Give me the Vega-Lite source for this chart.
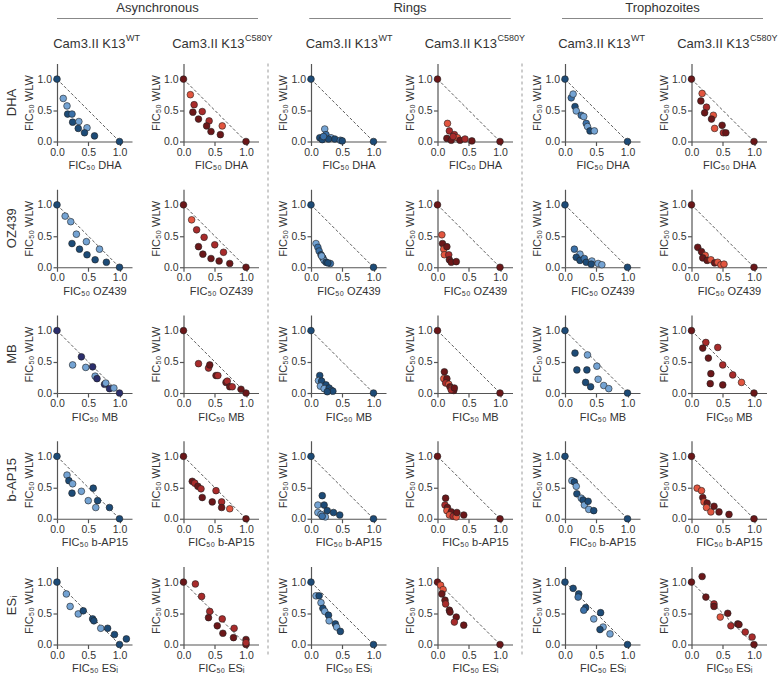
{
"$schema":"https://vega.github.io/schema/vega-lite/v6.json",
"background":"white",
"padding":{"left":5,"top":2,"right":5,"bottom":0},
"config":{"font":"Liberation Sans","view":{"stroke":null},
"axis":{"grid":false,"tickCount":3,"domainColor":"#555","domainWidth":1.2,"tickColor":"#555","tickWidth":1.2,"tickSize":4,"labelFontSize":10.5,"labelColor":"#333","labelPadding":1.5,"labelFlush":false,"labelOverlap":false,"titleFontSize":11,"titleFontWeight":"normal","titleColor":"#333","titlePadding":2},
"title":{"fontWeight":"normal","color":"#333"},
"header":{"labelFontSize":13,"labelColor":"#333"}},
"datasets":{
"iso":[{"x":0,"y":1},{"x":1,"y":0}],
"hdr":[{"grp":"Asynchronous","strain":"WT","base":"Cam3.II K13","sup":"WT"},{"grp":"Asynchronous","strain":"C580Y","base":"Cam3.II K13","sup":"C580Y"},{"grp":"Rings","strain":"WT","base":"Cam3.II K13","sup":"WT"},{"grp":"Rings","strain":"C580Y","base":"Cam3.II K13","sup":"C580Y"},{"grp":"Trophozoites","strain":"WT","base":"Cam3.II K13","sup":"WT"},{"grp":"Trophozoites","strain":"C580Y","base":"Cam3.II K13","sup":"C580Y"}],
"pts":[
{"p":"a1w","x":0,"y":1,"s":"bd"},{"p":"a1w","x":1,"y":0,"s":"bd"},{"p":"a1w","x":0.10,"y":0.69,"s":"bl"},{"p":"a1w","x":0.16,"y":0.57,"s":"bl"},{"p":"a1w","x":0.17,"y":0.44,"s":"bd"},{"p":"a1w","x":0.24,"y":0.44,"s":"bm"},{"p":"a1w","x":0.25,"y":0.31,"s":"bd"},{"p":"a1w","x":0.35,"y":0.32,"s":"bl"},{"p":"a1w","x":0.34,"y":0.21,"s":"bd"},{"p":"a1w","x":0.48,"y":0.22,"s":"bl"},{"p":"a1w","x":0.44,"y":0.14,"s":"bd"},{"p":"a1w","x":0.60,"y":0.09,"s":"bd"},
{"p":"a1c","x":0,"y":1,"s":"rd"},{"p":"a1c","x":1,"y":0,"s":"rd"},{"p":"a1c","x":0.11,"y":0.75,"s":"rl"},{"p":"a1c","x":0.17,"y":0.59,"s":"rm"},{"p":"a1c","x":0.15,"y":0.47,"s":"rd"},{"p":"a1c","x":0.30,"y":0.48,"s":"rm"},{"p":"a1c","x":0.24,"y":0.36,"s":"rd"},{"p":"a1c","x":0.41,"y":0.33,"s":"rm"},{"p":"a1c","x":0.37,"y":0.25,"s":"rd"},{"p":"a1c","x":0.62,"y":0.25,"s":"rl"},{"p":"a1c","x":0.44,"y":0.16,"s":"rd"},{"p":"a1c","x":0.59,"y":0.11,"s":"rd"},
{"p":"r1w","x":0,"y":1,"s":"bd"},{"p":"r1w","x":1,"y":0,"s":"bd"},{"p":"r1w","x":0.14,"y":0.06,"s":"bd"},{"p":"r1w","x":0.22,"y":0.20,"s":"bl"},{"p":"r1w","x":0.24,"y":0.11,"s":"bm"},{"p":"r1w","x":0.18,"y":0.03,"s":"bd"},{"p":"r1w","x":0.32,"y":0.06,"s":"bl"},{"p":"r1w","x":0.38,"y":0.04,"s":"bd"},{"p":"r1w","x":0.47,"y":0.02,"s":"bm"},{"p":"r1w","x":0.50,"y":0.01,"s":"bd"},{"p":"r1w","x":0.28,"y":0.04,"s":"bd"},{"p":"r1w","x":0.20,"y":0.08,"s":"bm"},
{"p":"r1c","x":0,"y":1,"s":"rd"},{"p":"r1c","x":1,"y":0,"s":"rd"},{"p":"r1c","x":0.16,"y":0.29,"s":"rl"},{"p":"r1c","x":0.19,"y":0.17,"s":"rm"},{"p":"r1c","x":0.27,"y":0.11,"s":"rm"},{"p":"r1c","x":0.32,"y":0.06,"s":"rl"},{"p":"r1c","x":0.15,"y":0.05,"s":"rd"},{"p":"r1c","x":0.22,"y":0.02,"s":"rd"},{"p":"r1c","x":0.36,"y":0.02,"s":"rd"},{"p":"r1c","x":0.44,"y":0.04,"s":"rm"},{"p":"r1c","x":0.55,"y":0.01,"s":"rd"},{"p":"r1c","x":0.25,"y":0.08,"s":"rm"},
{"p":"t1w","x":0,"y":1,"s":"bd"},{"p":"t1w","x":1,"y":0,"s":"bd"},{"p":"t1w","x":0.10,"y":0.70,"s":"bm"},{"p":"t1w","x":0.13,"y":0.76,"s":"bl"},{"p":"t1w","x":0.16,"y":0.56,"s":"bd"},{"p":"t1w","x":0.18,"y":0.49,"s":"bl"},{"p":"t1w","x":0.26,"y":0.42,"s":"bm"},{"p":"t1w","x":0.30,"y":0.40,"s":"bl"},{"p":"t1w","x":0.34,"y":0.29,"s":"bm"},{"p":"t1w","x":0.36,"y":0.24,"s":"bl"},{"p":"t1w","x":0.40,"y":0.17,"s":"bd"},{"p":"t1w","x":0.47,"y":0.17,"s":"bl"},
{"p":"t1c","x":0,"y":1,"s":"rd"},{"p":"t1c","x":1,"y":0,"s":"rd"},{"p":"t1c","x":0.17,"y":0.77,"s":"rl"},{"p":"t1c","x":0.15,"y":0.65,"s":"rd"},{"p":"t1c","x":0.24,"y":0.55,"s":"rm"},{"p":"t1c","x":0.21,"y":0.46,"s":"rd"},{"p":"t1c","x":0.35,"y":0.42,"s":"rl"},{"p":"t1c","x":0.32,"y":0.36,"s":"rd"},{"p":"t1c","x":0.37,"y":0.21,"s":"rl"},{"p":"t1c","x":0.49,"y":0.26,"s":"rd"},{"p":"t1c","x":0.51,"y":0.14,"s":"rm"},{"p":"t1c","x":0.55,"y":0.14,"s":"rd"},
{"p":"a2w","x":0,"y":1,"s":"bd"},{"p":"a2w","x":1,"y":0,"s":"bd"},{"p":"a2w","x":0.13,"y":0.82,"s":"bl"},{"p":"a2w","x":0.22,"y":0.73,"s":"bl"},{"p":"a2w","x":0.31,"y":0.53,"s":"bl"},{"p":"a2w","x":0.24,"y":0.38,"s":"bd"},{"p":"a2w","x":0.36,"y":0.29,"s":"bd"},{"p":"a2w","x":0.47,"y":0.41,"s":"bl"},{"p":"a2w","x":0.48,"y":0.20,"s":"bd"},{"p":"a2w","x":0.61,"y":0.12,"s":"bd"},{"p":"a2w","x":0.68,"y":0.29,"s":"bl"},{"p":"a2w","x":0.79,"y":0.08,"s":"bd"},
{"p":"a2c","x":0,"y":1,"s":"rd"},{"p":"a2c","x":1,"y":0,"s":"rd"},{"p":"a2c","x":0.13,"y":0.76,"s":"rl"},{"p":"a2c","x":0.21,"y":0.60,"s":"rm"},{"p":"a2c","x":0.33,"y":0.48,"s":"rm"},{"p":"a2c","x":0.24,"y":0.33,"s":"rd"},{"p":"a2c","x":0.31,"y":0.21,"s":"rd"},{"p":"a2c","x":0.50,"y":0.36,"s":"rm"},{"p":"a2c","x":0.44,"y":0.14,"s":"rd"},{"p":"a2c","x":0.57,"y":0.10,"s":"rd"},{"p":"a2c","x":0.64,"y":0.24,"s":"rm"},{"p":"a2c","x":0.74,"y":0.06,"s":"rd"},
{"p":"r2w","x":0,"y":1,"s":"bd"},{"p":"r2w","x":1,"y":0,"s":"bd"},{"p":"r2w","x":0.08,"y":0.38,"s":"bl"},{"p":"r2w","x":0.11,"y":0.32,"s":"bm"},{"p":"r2w","x":0.13,"y":0.26,"s":"bm"},{"p":"r2w","x":0.16,"y":0.20,"s":"bd"},{"p":"r2w","x":0.19,"y":0.15,"s":"bd"},{"p":"r2w","x":0.21,"y":0.11,"s":"bl"},{"p":"r2w","x":0.24,"y":0.08,"s":"bd"},{"p":"r2w","x":0.31,"y":0.06,"s":"bm"},{"p":"r2w","x":0.17,"y":0.18,"s":"bl"},{"p":"r2w","x":0.27,"y":0.07,"s":"bd"},
{"p":"r2c","x":0,"y":1,"s":"rd"},{"p":"r2c","x":1,"y":0,"s":"rd"},{"p":"r2c","x":0.07,"y":0.52,"s":"rl"},{"p":"r2c","x":0.08,"y":0.38,"s":"rd"},{"p":"r2c","x":0.10,"y":0.29,"s":"rl"},{"p":"r2c","x":0.15,"y":0.33,"s":"rd"},{"p":"r2c","x":0.11,"y":0.20,"s":"rl"},{"p":"r2c","x":0.18,"y":0.20,"s":"rm"},{"p":"r2c","x":0.19,"y":0.12,"s":"rd"},{"p":"r2c","x":0.22,"y":0.08,"s":"rd"},{"p":"r2c","x":0.30,"y":0.09,"s":"rd"},
{"p":"t2w","x":0,"y":1,"s":"bd"},{"p":"t2w","x":1,"y":0,"s":"bd"},{"p":"t2w","x":0.15,"y":0.29,"s":"bm"},{"p":"t2w","x":0.24,"y":0.21,"s":"bl"},{"p":"t2w","x":0.18,"y":0.16,"s":"bd"},{"p":"t2w","x":0.24,"y":0.11,"s":"bd"},{"p":"t2w","x":0.31,"y":0.14,"s":"bm"},{"p":"t2w","x":0.34,"y":0.08,"s":"bd"},{"p":"t2w","x":0.43,"y":0.10,"s":"bl"},{"p":"t2w","x":0.42,"y":0.05,"s":"bd"},{"p":"t2w","x":0.53,"y":0.06,"s":"bl"},{"p":"t2w","x":0.59,"y":0.04,"s":"bl"},
{"p":"t2c","x":0,"y":1,"s":"rd"},{"p":"t2c","x":1,"y":0,"s":"rd"},{"p":"t2c","x":0.10,"y":0.32,"s":"rd"},{"p":"t2c","x":0.16,"y":0.25,"s":"rd"},{"p":"t2c","x":0.22,"y":0.19,"s":"rl"},{"p":"t2c","x":0.18,"y":0.15,"s":"rd"},{"p":"t2c","x":0.25,"y":0.11,"s":"rd"},{"p":"t2c","x":0.31,"y":0.12,"s":"rl"},{"p":"t2c","x":0.37,"y":0.07,"s":"rd"},{"p":"t2c","x":0.42,"y":0.08,"s":"rl"},{"p":"t2c","x":0.47,"y":0.04,"s":"rl"},{"p":"t2c","x":0.52,"y":0.05,"s":"rl"},
{"p":"a3w","x":0,"y":1,"s":"bn"},{"p":"a3w","x":1,"y":0,"s":"bn"},{"p":"a3w","x":0.39,"y":0.58,"s":"bn"},{"p":"a3w","x":0.25,"y":0.45,"s":"bl"},{"p":"a3w","x":0.46,"y":0.41,"s":"bl"},{"p":"a3w","x":0.57,"y":0.42,"s":"bn"},{"p":"a3w","x":0.61,"y":0.27,"s":"bl"},{"p":"a3w","x":0.64,"y":0.23,"s":"bn"},{"p":"a3w","x":0.76,"y":0.14,"s":"bn"},{"p":"a3w","x":0.78,"y":0.16,"s":"bl"},{"p":"a3w","x":0.84,"y":0.07,"s":"bn"},{"p":"a3w","x":0.91,"y":0.08,"s":"bl"},
{"p":"a3c","x":0,"y":1,"s":"rd"},{"p":"a3c","x":1,"y":0,"s":"rd"},{"p":"a3c","x":0.24,"y":0.47,"s":"rm"},{"p":"a3c","x":0.40,"y":0.40,"s":"rm"},{"p":"a3c","x":0.42,"y":0.45,"s":"rd"},{"p":"a3c","x":0.52,"y":0.28,"s":"rd"},{"p":"a3c","x":0.55,"y":0.28,"s":"rm"},{"p":"a3c","x":0.68,"y":0.17,"s":"rd"},{"p":"a3c","x":0.70,"y":0.19,"s":"rm"},{"p":"a3c","x":0.74,"y":0.10,"s":"rd"},{"p":"a3c","x":0.78,"y":0.10,"s":"rm"},{"p":"a3c","x":0.92,"y":0.06,"s":"rd"},
{"p":"r3w","x":0,"y":1,"s":"bd"},{"p":"r3w","x":1,"y":0,"s":"bd"},{"p":"r3w","x":0.14,"y":0.28,"s":"bd"},{"p":"r3w","x":0.12,"y":0.20,"s":"bl"},{"p":"r3w","x":0.17,"y":0.19,"s":"bd"},{"p":"r3w","x":0.15,"y":0.11,"s":"bl"},{"p":"r3w","x":0.24,"y":0.13,"s":"bd"},{"p":"r3w","x":0.21,"y":0.07,"s":"bl"},{"p":"r3w","x":0.29,"y":0.08,"s":"bd"},{"p":"r3w","x":0.33,"y":0.04,"s":"bm"},{"p":"r3w","x":0.35,"y":0.03,"s":"bd"},{"p":"r3w","x":0.26,"y":0.02,"s":"bd"},
{"p":"r3c","x":0,"y":1,"s":"rd"},{"p":"r3c","x":1,"y":0,"s":"rd"},{"p":"r3c","x":0.11,"y":0.34,"s":"rd"},{"p":"r3c","x":0.10,"y":0.23,"s":"rl"},{"p":"r3c","x":0.15,"y":0.23,"s":"rd"},{"p":"r3c","x":0.13,"y":0.16,"s":"rm"},{"p":"r3c","x":0.18,"y":0.14,"s":"rl"},{"p":"r3c","x":0.20,"y":0.10,"s":"rd"},{"p":"r3c","x":0.23,"y":0.07,"s":"rl"},{"p":"r3c","x":0.26,"y":0.04,"s":"rd"},{"p":"r3c","x":0.22,"y":0.05,"s":"rm"},{"p":"r3c","x":0.27,"y":0.08,"s":"rd"},
{"p":"t3w","x":0,"y":1,"s":"bd"},{"p":"t3w","x":1,"y":0,"s":"bd"},{"p":"t3w","x":0.16,"y":0.64,"s":"bd"},{"p":"t3w","x":0.36,"y":0.61,"s":"bl"},{"p":"t3w","x":0.19,"y":0.37,"s":"bd"},{"p":"t3w","x":0.35,"y":0.37,"s":"bd"},{"p":"t3w","x":0.51,"y":0.43,"s":"bl"},{"p":"t3w","x":0.33,"y":0.17,"s":"bd"},{"p":"t3w","x":0.53,"y":0.22,"s":"bl"},{"p":"t3w","x":0.41,"y":0.10,"s":"bd"},{"p":"t3w","x":0.62,"y":0.12,"s":"bl"},{"p":"t3w","x":0.70,"y":0.07,"s":"bl"},
{"p":"t3c","x":0,"y":1,"s":"rd"},{"p":"t3c","x":1,"y":0,"s":"rd"},{"p":"t3c","x":0.23,"y":0.81,"s":"rm"},{"p":"t3c","x":0.42,"y":0.73,"s":"rm"},{"p":"t3c","x":0.18,"y":0.72,"s":"rd"},{"p":"t3c","x":0.27,"y":0.56,"s":"rd"},{"p":"t3c","x":0.50,"y":0.45,"s":"rm"},{"p":"t3c","x":0.31,"y":0.31,"s":"rd"},{"p":"t3c","x":0.66,"y":0.29,"s":"rm"},{"p":"t3c","x":0.80,"y":0.17,"s":"rl"},{"p":"t3c","x":0.30,"y":0.15,"s":"rd"},{"p":"t3c","x":0.50,"y":0.13,"s":"rd"},
{"p":"a4w","x":0,"y":1,"s":"bd"},{"p":"a4w","x":1,"y":0,"s":"bd"},{"p":"a4w","x":0.16,"y":0.70,"s":"bl"},{"p":"a4w","x":0.19,"y":0.61,"s":"bd"},{"p":"a4w","x":0.25,"y":0.56,"s":"bl"},{"p":"a4w","x":0.24,"y":0.41,"s":"bd"},{"p":"a4w","x":0.39,"y":0.44,"s":"bl"},{"p":"a4w","x":0.58,"y":0.49,"s":"bd"},{"p":"a4w","x":0.50,"y":0.29,"s":"bl"},{"p":"a4w","x":0.65,"y":0.29,"s":"bd"},{"p":"a4w","x":0.62,"y":0.18,"s":"bl"},{"p":"a4w","x":0.84,"y":0.18,"s":"bd"},
{"p":"a4c","x":0,"y":1,"s":"rd"},{"p":"a4c","x":1,"y":0,"s":"rd"},{"p":"a4c","x":0.14,"y":0.60,"s":"rd"},{"p":"a4c","x":0.18,"y":0.57,"s":"rm"},{"p":"a4c","x":0.23,"y":0.52,"s":"rd"},{"p":"a4c","x":0.28,"y":0.48,"s":"rm"},{"p":"a4c","x":0.30,"y":0.34,"s":"rd"},{"p":"a4c","x":0.52,"y":0.45,"s":"rm"},{"p":"a4c","x":0.46,"y":0.27,"s":"rd"},{"p":"a4c","x":0.61,"y":0.27,"s":"rm"},{"p":"a4c","x":0.61,"y":0.18,"s":"rd"},{"p":"a4c","x":0.74,"y":0.16,"s":"rl"},
{"p":"r4w","x":0,"y":1,"s":"bd"},{"p":"r4w","x":1,"y":0,"s":"bd"},{"p":"r4w","x":0.18,"y":0.37,"s":"bd"},{"p":"r4w","x":0.11,"y":0.22,"s":"bl"},{"p":"r4w","x":0.21,"y":0.22,"s":"bd"},{"p":"r4w","x":0.11,"y":0.10,"s":"bl"},{"p":"r4w","x":0.16,"y":0.07,"s":"bl"},{"p":"r4w","x":0.26,"y":0.13,"s":"bd"},{"p":"r4w","x":0.36,"y":0.10,"s":"bd"},{"p":"r4w","x":0.46,"y":0.06,"s":"bd"},{"p":"r4w","x":0.23,"y":0.03,"s":"bl"},{"p":"r4w","x":0.18,"y":0.04,"s":"bm"},
{"p":"r4c","x":0,"y":1,"s":"rd"},{"p":"r4c","x":1,"y":0,"s":"rd"},{"p":"r4c","x":0.13,"y":0.33,"s":"rd"},{"p":"r4c","x":0.12,"y":0.22,"s":"rm"},{"p":"r4c","x":0.16,"y":0.18,"s":"rd"},{"p":"r4c","x":0.15,"y":0.13,"s":"rl"},{"p":"r4c","x":0.22,"y":0.11,"s":"rd"},{"p":"r4c","x":0.19,"y":0.06,"s":"rl"},{"p":"r4c","x":0.25,"y":0.04,"s":"rm"},{"p":"r4c","x":0.30,"y":0.03,"s":"rl"},{"p":"r4c","x":0.31,"y":0.10,"s":"rd"},{"p":"r4c","x":0.42,"y":0.06,"s":"rd"},
{"p":"t4w","x":0,"y":1,"s":"bd"},{"p":"t4w","x":1,"y":0,"s":"bd"},{"p":"t4w","x":0.11,"y":0.61,"s":"bl"},{"p":"t4w","x":0.15,"y":0.59,"s":"bd"},{"p":"t4w","x":0.18,"y":0.52,"s":"bl"},{"p":"t4w","x":0.19,"y":0.40,"s":"bd"},{"p":"t4w","x":0.26,"y":0.33,"s":"bl"},{"p":"t4w","x":0.29,"y":0.30,"s":"bd"},{"p":"t4w","x":0.31,"y":0.22,"s":"bl"},{"p":"t4w","x":0.37,"y":0.28,"s":"bd"},{"p":"t4w","x":0.38,"y":0.15,"s":"bl"},{"p":"t4w","x":0.46,"y":0.13,"s":"bd"},
{"p":"t4c","x":0,"y":1,"s":"rd"},{"p":"t4c","x":1,"y":0,"s":"rd"},{"p":"t4c","x":0.09,"y":0.49,"s":"rl"},{"p":"t4c","x":0.16,"y":0.45,"s":"rl"},{"p":"t4c","x":0.18,"y":0.34,"s":"rd"},{"p":"t4c","x":0.20,"y":0.27,"s":"rl"},{"p":"t4c","x":0.25,"y":0.25,"s":"rd"},{"p":"t4c","x":0.24,"y":0.18,"s":"rl"},{"p":"t4c","x":0.31,"y":0.11,"s":"rl"},{"p":"t4c","x":0.36,"y":0.20,"s":"rd"},{"p":"t4c","x":0.44,"y":0.11,"s":"rd"},{"p":"t4c","x":0.60,"y":0.07,"s":"rd"},
{"p":"a5w","x":0,"y":1,"s":"bd"},{"p":"a5w","x":1,"y":0,"s":"bd"},{"p":"a5w","x":0.15,"y":0.81,"s":"bl"},{"p":"a5w","x":0.21,"y":0.61,"s":"bl"},{"p":"a5w","x":0.34,"y":0.49,"s":"bl"},{"p":"a5w","x":0.42,"y":0.54,"s":"bd"},{"p":"a5w","x":0.57,"y":0.41,"s":"bd"},{"p":"a5w","x":0.59,"y":0.38,"s":"bd"},{"p":"a5w","x":0.70,"y":0.26,"s":"bl"},{"p":"a5w","x":0.81,"y":0.26,"s":"bd"},{"p":"a5w","x":0.92,"y":0.16,"s":"bd"},{"p":"a5w","x":1.11,"y":0.09,"s":"bd"},
{"p":"a5c","x":0,"y":1,"s":"rd"},{"p":"a5c","x":1,"y":0,"s":"rd"},{"p":"a5c","x":0.19,"y":0.97,"s":"rm"},{"p":"a5c","x":0.29,"y":0.77,"s":"rm"},{"p":"a5c","x":0.42,"y":0.53,"s":"rm"},{"p":"a5c","x":0.40,"y":0.43,"s":"rd"},{"p":"a5c","x":0.54,"y":0.30,"s":"rd"},{"p":"a5c","x":0.62,"y":0.41,"s":"rm"},{"p":"a5c","x":0.63,"y":0.18,"s":"rd"},{"p":"a5c","x":0.81,"y":0.26,"s":"rm"},{"p":"a5c","x":0.80,"y":0.11,"s":"rd"},{"p":"a5c","x":1.00,"y":0.08,"s":"rd"},{"p":"a5c","x":1.00,"y":0.03,"s":"rm"},
{"p":"r5w","x":0,"y":1,"s":"bd"},{"p":"r5w","x":1,"y":0,"s":"bd"},{"p":"r5w","x":0.08,"y":0.78,"s":"bl"},{"p":"r5w","x":0.13,"y":0.78,"s":"bd"},{"p":"r5w","x":0.16,"y":0.67,"s":"bl"},{"p":"r5w","x":0.19,"y":0.58,"s":"bd"},{"p":"r5w","x":0.22,"y":0.53,"s":"bl"},{"p":"r5w","x":0.28,"y":0.47,"s":"bd"},{"p":"r5w","x":0.29,"y":0.38,"s":"bl"},{"p":"r5w","x":0.39,"y":0.33,"s":"bd"},{"p":"r5w","x":0.41,"y":0.28,"s":"bl"},{"p":"r5w","x":0.47,"y":0.21,"s":"bd"},
{"p":"r5c","x":0,"y":1,"s":"rd"},{"p":"r5c","x":1,"y":0,"s":"rd"},{"p":"r5c","x":0.05,"y":0.95,"s":"rl"},{"p":"r5c","x":0.09,"y":0.88,"s":"rl"},{"p":"r5c","x":0.07,"y":0.81,"s":"rd"},{"p":"r5c","x":0.12,"y":0.71,"s":"rd"},{"p":"r5c","x":0.13,"y":0.65,"s":"rm"},{"p":"r5c","x":0.19,"y":0.55,"s":"rd"},{"p":"r5c","x":0.20,"y":0.52,"s":"rd"},{"p":"r5c","x":0.30,"y":0.44,"s":"rd"},{"p":"r5c","x":0.27,"y":0.36,"s":"rm"},{"p":"r5c","x":0.42,"y":0.31,"s":"rd"},
{"p":"t5w","x":0,"y":1,"s":"bd"},{"p":"t5w","x":1,"y":0,"s":"bd"},{"p":"t5w","x":0.13,"y":0.90,"s":"bd"},{"p":"t5w","x":0.22,"y":0.81,"s":"bd"},{"p":"t5w","x":0.21,"y":0.76,"s":"bm"},{"p":"t5w","x":0.33,"y":0.59,"s":"bd"},{"p":"t5w","x":0.30,"y":0.55,"s":"bm"},{"p":"t5w","x":0.46,"y":0.41,"s":"bl"},{"p":"t5w","x":0.57,"y":0.51,"s":"bd"},{"p":"t5w","x":0.61,"y":0.28,"s":"bl"},{"p":"t5w","x":0.56,"y":0.24,"s":"bd"},{"p":"t5w","x":0.72,"y":0.17,"s":"bl"},
{"p":"t5c","x":0,"y":1,"s":"rd"},{"p":"t5c","x":1,"y":0,"s":"rd"},{"p":"t5c","x":0.17,"y":1.09,"s":"rd"},{"p":"t5c","x":0.23,"y":0.76,"s":"rd"},{"p":"t5c","x":0.36,"y":0.65,"s":"rm"},{"p":"t5c","x":0.36,"y":0.61,"s":"rd"},{"p":"t5c","x":0.58,"y":0.50,"s":"rd"},{"p":"t5c","x":0.46,"y":0.44,"s":"rl"},{"p":"t5c","x":0.63,"y":0.30,"s":"rm"},{"p":"t5c","x":0.74,"y":0.33,"s":"rd"},{"p":"t5c","x":0.76,"y":0.32,"s":"rd"},{"p":"t5c","x":0.86,"y":0.20,"s":"rm"},{"p":"t5c","x":0.97,"y":0.12,"s":"rm"}
]},
"spacing":11.5,
"vconcat":[
{"data":{"name":"hdr"},"bounds":"flush","spacing":51.5,
 "facet":{"column":{"field":"grp","type":"nominal","sort":["Asynchronous","Rings","Trophozoites"],"header":{"title":null,"labelFontSize":13,"labelColor":"#333","labelPadding":3}}},
 "spec":{"width":201,"height":1,"layer":[
  {"mark":{"type":"rule","color":"#888","strokeWidth":1},"encoding":{"y":{"datum":"h","type":"nominal","axis":null}}},
  {"transform":[{"filter":"datum.strain=='WT'"}],"mark":{"type":"text","align":"right","baseline":"alphabetic","dx":31,"dy":29,"fontSize":13,"color":"#333"},"encoding":{"x":{"field":"strain","type":"nominal","axis":null,"scale":{"type":"point","domain":["WT","C580Y"],"padding":0.2976}},"y":{"datum":"h","type":"nominal","axis":null},"text":{"field":"base"}}},
  {"transform":[{"filter":"datum.strain=='WT'"}],"mark":{"type":"text","align":"left","baseline":"alphabetic","dx":31.5,"dy":22.5,"fontSize":9,"color":"#333"},"encoding":{"x":{"field":"strain","type":"nominal","axis":null,"scale":{"type":"point","domain":["WT","C580Y"],"padding":0.2976}},"y":{"datum":"h","type":"nominal","axis":null},"text":{"field":"sup"}}},
  {"transform":[{"filter":"datum.strain=='C580Y'"}],"mark":{"type":"text","align":"right","baseline":"alphabetic","dx":24,"dy":29,"fontSize":13,"color":"#333"},"encoding":{"x":{"field":"strain","type":"nominal","axis":null,"scale":{"type":"point","domain":["WT","C580Y"],"padding":0.2976}},"y":{"datum":"h","type":"nominal","axis":null},"text":{"field":"base"}}},
  {"transform":[{"filter":"datum.strain=='C580Y'"}],"mark":{"type":"text","align":"left","baseline":"alphabetic","dx":24.5,"dy":22.5,"fontSize":9,"color":"#333"},"encoding":{"x":{"field":"strain","type":"nominal","axis":null,"scale":{"type":"point","domain":["WT","C580Y"],"padding":0.2976}},"y":{"datum":"h","type":"nominal","axis":null},"text":{"field":"sup"}}}
 ]}},
{"spacing":8,"hconcat":[
 {"columns":2,"bounds":"flush","spacing":{"row":47.75,"column":51.5},"concat":[
  {"width":75,"height":78,"title":{"text":"DHA","orient":"left","anchor":"middle","fontSize":13,"offset":5},"encoding":{"x":{"field":"x","type":"quantitative","scale":{"domain":[0,1.2],"nice":false},"axis":{"title":"FIC₅₀ DHA"}},"y":{"field":"y","type":"quantitative","scale":{"domain":[0,1.25],"nice":false},"axis":{"title":"FIC₅₀ WLW"}}},"layer":[{"data":{"name":"iso"},"mark":{"type":"line","color":"#333","strokeWidth":0.8,"strokeDash":[3,2]},"encoding":{}},{"data":{"name":"pts"},"transform":[{"filter":"datum.p=='a1w'"}],"mark":{"type":"circle","size":45,"stroke":"#222","strokeWidth":0.6,"opacity":1},"encoding":{"fill":{"field":"s","type":"nominal","scale":{"domain":["bd","bm","bl","bn","rd","rm","rl"],"range":["#1d4b77","#3a70a8","#74a3d3","#2b2e6c","#6b1719","#a82b2b","#e2553f"]},"legend":null}}}]},
  {"width":75,"height":78,"encoding":{"x":{"field":"x","type":"quantitative","scale":{"domain":[0,1.2],"nice":false},"axis":{"title":"FIC₅₀ DHA"}},"y":{"field":"y","type":"quantitative","scale":{"domain":[0,1.25],"nice":false},"axis":{"title":"FIC₅₀ WLW"}}},"layer":[{"data":{"name":"iso"},"mark":{"type":"line","color":"#333","strokeWidth":0.8,"strokeDash":[3,2]},"encoding":{}},{"data":{"name":"pts"},"transform":[{"filter":"datum.p=='a1c'"}],"mark":{"type":"circle","size":45,"stroke":"#222","strokeWidth":0.6,"opacity":1},"encoding":{"fill":{"field":"s","type":"nominal","scale":{"domain":["bd","bm","bl","bn","rd","rm","rl"],"range":["#1d4b77","#3a70a8","#74a3d3","#2b2e6c","#6b1719","#a82b2b","#e2553f"]},"legend":null}}}]},
  {"width":75,"height":78,"title":{"text":"OZ439","orient":"left","anchor":"middle","fontSize":13,"offset":5},"encoding":{"x":{"field":"x","type":"quantitative","scale":{"domain":[0,1.2],"nice":false},"axis":{"title":"FIC₅₀ OZ439"}},"y":{"field":"y","type":"quantitative","scale":{"domain":[0,1.25],"nice":false},"axis":{"title":"FIC₅₀ WLW"}}},"layer":[{"data":{"name":"iso"},"mark":{"type":"line","color":"#333","strokeWidth":0.8,"strokeDash":[3,2]},"encoding":{}},{"data":{"name":"pts"},"transform":[{"filter":"datum.p=='a2w'"}],"mark":{"type":"circle","size":45,"stroke":"#222","strokeWidth":0.6,"opacity":1},"encoding":{"fill":{"field":"s","type":"nominal","scale":{"domain":["bd","bm","bl","bn","rd","rm","rl"],"range":["#1d4b77","#3a70a8","#74a3d3","#2b2e6c","#6b1719","#a82b2b","#e2553f"]},"legend":null}}}]},
  {"width":75,"height":78,"encoding":{"x":{"field":"x","type":"quantitative","scale":{"domain":[0,1.2],"nice":false},"axis":{"title":"FIC₅₀ OZ439"}},"y":{"field":"y","type":"quantitative","scale":{"domain":[0,1.25],"nice":false},"axis":{"title":"FIC₅₀ WLW"}}},"layer":[{"data":{"name":"iso"},"mark":{"type":"line","color":"#333","strokeWidth":0.8,"strokeDash":[3,2]},"encoding":{}},{"data":{"name":"pts"},"transform":[{"filter":"datum.p=='a2c'"}],"mark":{"type":"circle","size":45,"stroke":"#222","strokeWidth":0.6,"opacity":1},"encoding":{"fill":{"field":"s","type":"nominal","scale":{"domain":["bd","bm","bl","bn","rd","rm","rl"],"range":["#1d4b77","#3a70a8","#74a3d3","#2b2e6c","#6b1719","#a82b2b","#e2553f"]},"legend":null}}}]},
  {"width":75,"height":78,"title":{"text":"MB","orient":"left","anchor":"middle","fontSize":13,"offset":5},"encoding":{"x":{"field":"x","type":"quantitative","scale":{"domain":[0,1.2],"nice":false},"axis":{"title":"FIC₅₀ MB"}},"y":{"field":"y","type":"quantitative","scale":{"domain":[0,1.25],"nice":false},"axis":{"title":"FIC₅₀ WLW"}}},"layer":[{"data":{"name":"iso"},"mark":{"type":"line","color":"#333","strokeWidth":0.8,"strokeDash":[3,2]},"encoding":{}},{"data":{"name":"pts"},"transform":[{"filter":"datum.p=='a3w'"}],"mark":{"type":"circle","size":45,"stroke":"#222","strokeWidth":0.6,"opacity":1},"encoding":{"fill":{"field":"s","type":"nominal","scale":{"domain":["bd","bm","bl","bn","rd","rm","rl"],"range":["#1d4b77","#3a70a8","#74a3d3","#2b2e6c","#6b1719","#a82b2b","#e2553f"]},"legend":null}}}]},
  {"width":75,"height":78,"encoding":{"x":{"field":"x","type":"quantitative","scale":{"domain":[0,1.2],"nice":false},"axis":{"title":"FIC₅₀ MB"}},"y":{"field":"y","type":"quantitative","scale":{"domain":[0,1.25],"nice":false},"axis":{"title":"FIC₅₀ WLW"}}},"layer":[{"data":{"name":"iso"},"mark":{"type":"line","color":"#333","strokeWidth":0.8,"strokeDash":[3,2]},"encoding":{}},{"data":{"name":"pts"},"transform":[{"filter":"datum.p=='a3c'"}],"mark":{"type":"circle","size":45,"stroke":"#222","strokeWidth":0.6,"opacity":1},"encoding":{"fill":{"field":"s","type":"nominal","scale":{"domain":["bd","bm","bl","bn","rd","rm","rl"],"range":["#1d4b77","#3a70a8","#74a3d3","#2b2e6c","#6b1719","#a82b2b","#e2553f"]},"legend":null}}}]},
  {"width":75,"height":78,"title":{"text":"b-AP15","orient":"left","anchor":"middle","fontSize":13,"offset":5},"encoding":{"x":{"field":"x","type":"quantitative","scale":{"domain":[0,1.2],"nice":false},"axis":{"title":"FIC₅₀ b-AP15"}},"y":{"field":"y","type":"quantitative","scale":{"domain":[0,1.25],"nice":false},"axis":{"title":"FIC₅₀ WLW"}}},"layer":[{"data":{"name":"iso"},"mark":{"type":"line","color":"#333","strokeWidth":0.8,"strokeDash":[3,2]},"encoding":{}},{"data":{"name":"pts"},"transform":[{"filter":"datum.p=='a4w'"}],"mark":{"type":"circle","size":45,"stroke":"#222","strokeWidth":0.6,"opacity":1},"encoding":{"fill":{"field":"s","type":"nominal","scale":{"domain":["bd","bm","bl","bn","rd","rm","rl"],"range":["#1d4b77","#3a70a8","#74a3d3","#2b2e6c","#6b1719","#a82b2b","#e2553f"]},"legend":null}}}]},
  {"width":75,"height":78,"encoding":{"x":{"field":"x","type":"quantitative","scale":{"domain":[0,1.2],"nice":false},"axis":{"title":"FIC₅₀ b-AP15"}},"y":{"field":"y","type":"quantitative","scale":{"domain":[0,1.25],"nice":false},"axis":{"title":"FIC₅₀ WLW"}}},"layer":[{"data":{"name":"iso"},"mark":{"type":"line","color":"#333","strokeWidth":0.8,"strokeDash":[3,2]},"encoding":{}},{"data":{"name":"pts"},"transform":[{"filter":"datum.p=='a4c'"}],"mark":{"type":"circle","size":45,"stroke":"#222","strokeWidth":0.6,"opacity":1},"encoding":{"fill":{"field":"s","type":"nominal","scale":{"domain":["bd","bm","bl","bn","rd","rm","rl"],"range":["#1d4b77","#3a70a8","#74a3d3","#2b2e6c","#6b1719","#a82b2b","#e2553f"]},"legend":null}}}]},
  {"width":75,"height":78,"title":{"text":"ESᵢ","orient":"left","anchor":"middle","fontSize":13,"offset":5},"encoding":{"x":{"field":"x","type":"quantitative","scale":{"domain":[0,1.2],"nice":false},"axis":{"title":"FIC₅₀ ESᵢ"}},"y":{"field":"y","type":"quantitative","scale":{"domain":[0,1.25],"nice":false},"axis":{"title":"FIC₅₀ WLW"}}},"layer":[{"data":{"name":"iso"},"mark":{"type":"line","color":"#333","strokeWidth":0.8,"strokeDash":[3,2]},"encoding":{}},{"data":{"name":"pts"},"transform":[{"filter":"datum.p=='a5w'"}],"mark":{"type":"circle","size":45,"stroke":"#222","strokeWidth":0.6,"opacity":1},"encoding":{"fill":{"field":"s","type":"nominal","scale":{"domain":["bd","bm","bl","bn","rd","rm","rl"],"range":["#1d4b77","#3a70a8","#74a3d3","#2b2e6c","#6b1719","#a82b2b","#e2553f"]},"legend":null}}}]},
  {"width":75,"height":78,"encoding":{"x":{"field":"x","type":"quantitative","scale":{"domain":[0,1.2],"nice":false},"axis":{"title":"FIC₅₀ ESᵢ"}},"y":{"field":"y","type":"quantitative","scale":{"domain":[0,1.25],"nice":false},"axis":{"title":"FIC₅₀ WLW"}}},"layer":[{"data":{"name":"iso"},"mark":{"type":"line","color":"#333","strokeWidth":0.8,"strokeDash":[3,2]},"encoding":{}},{"data":{"name":"pts"},"transform":[{"filter":"datum.p=='a5c'"}],"mark":{"type":"circle","size":45,"stroke":"#222","strokeWidth":0.6,"opacity":1},"encoding":{"fill":{"field":"s","type":"nominal","scale":{"domain":["bd","bm","bl","bn","rd","rm","rl"],"range":["#1d4b77","#3a70a8","#74a3d3","#2b2e6c","#6b1719","#a82b2b","#e2553f"]},"legend":null}}}]}
 ]},
 {"data":{"values":[{}]},"width":1,"height":592,"mark":{"type":"rule","color":"#9a9a9a","strokeWidth":1,"strokeDash":[3,3]},"encoding":{"x":{"datum":0,"type":"quantitative","axis":null,"scale":{"domain":[0,1]}}}},
 {"columns":2,"bounds":"flush","spacing":{"row":47.75,"column":51.5},"concat":[
  {"width":75,"height":78,"encoding":{"x":{"field":"x","type":"quantitative","scale":{"domain":[0,1.2],"nice":false},"axis":{"title":"FIC₅₀ DHA"}},"y":{"field":"y","type":"quantitative","scale":{"domain":[0,1.25],"nice":false},"axis":{"title":"FIC₅₀ WLW"}}},"layer":[{"data":{"name":"iso"},"mark":{"type":"line","color":"#333","strokeWidth":0.8,"strokeDash":[3,2]},"encoding":{}},{"data":{"name":"pts"},"transform":[{"filter":"datum.p=='r1w'"}],"mark":{"type":"circle","size":45,"stroke":"#222","strokeWidth":0.6,"opacity":1},"encoding":{"fill":{"field":"s","type":"nominal","scale":{"domain":["bd","bm","bl","bn","rd","rm","rl"],"range":["#1d4b77","#3a70a8","#74a3d3","#2b2e6c","#6b1719","#a82b2b","#e2553f"]},"legend":null}}}]},
  {"width":75,"height":78,"encoding":{"x":{"field":"x","type":"quantitative","scale":{"domain":[0,1.2],"nice":false},"axis":{"title":"FIC₅₀ DHA"}},"y":{"field":"y","type":"quantitative","scale":{"domain":[0,1.25],"nice":false},"axis":{"title":"FIC₅₀ WLW"}}},"layer":[{"data":{"name":"iso"},"mark":{"type":"line","color":"#333","strokeWidth":0.8,"strokeDash":[3,2]},"encoding":{}},{"data":{"name":"pts"},"transform":[{"filter":"datum.p=='r1c'"}],"mark":{"type":"circle","size":45,"stroke":"#222","strokeWidth":0.6,"opacity":1},"encoding":{"fill":{"field":"s","type":"nominal","scale":{"domain":["bd","bm","bl","bn","rd","rm","rl"],"range":["#1d4b77","#3a70a8","#74a3d3","#2b2e6c","#6b1719","#a82b2b","#e2553f"]},"legend":null}}}]},
  {"width":75,"height":78,"encoding":{"x":{"field":"x","type":"quantitative","scale":{"domain":[0,1.2],"nice":false},"axis":{"title":"FIC₅₀ OZ439"}},"y":{"field":"y","type":"quantitative","scale":{"domain":[0,1.25],"nice":false},"axis":{"title":"FIC₅₀ WLW"}}},"layer":[{"data":{"name":"iso"},"mark":{"type":"line","color":"#333","strokeWidth":0.8,"strokeDash":[3,2]},"encoding":{}},{"data":{"name":"pts"},"transform":[{"filter":"datum.p=='r2w'"}],"mark":{"type":"circle","size":45,"stroke":"#222","strokeWidth":0.6,"opacity":1},"encoding":{"fill":{"field":"s","type":"nominal","scale":{"domain":["bd","bm","bl","bn","rd","rm","rl"],"range":["#1d4b77","#3a70a8","#74a3d3","#2b2e6c","#6b1719","#a82b2b","#e2553f"]},"legend":null}}}]},
  {"width":75,"height":78,"encoding":{"x":{"field":"x","type":"quantitative","scale":{"domain":[0,1.2],"nice":false},"axis":{"title":"FIC₅₀ OZ439"}},"y":{"field":"y","type":"quantitative","scale":{"domain":[0,1.25],"nice":false},"axis":{"title":"FIC₅₀ WLW"}}},"layer":[{"data":{"name":"iso"},"mark":{"type":"line","color":"#333","strokeWidth":0.8,"strokeDash":[3,2]},"encoding":{}},{"data":{"name":"pts"},"transform":[{"filter":"datum.p=='r2c'"}],"mark":{"type":"circle","size":45,"stroke":"#222","strokeWidth":0.6,"opacity":1},"encoding":{"fill":{"field":"s","type":"nominal","scale":{"domain":["bd","bm","bl","bn","rd","rm","rl"],"range":["#1d4b77","#3a70a8","#74a3d3","#2b2e6c","#6b1719","#a82b2b","#e2553f"]},"legend":null}}}]},
  {"width":75,"height":78,"encoding":{"x":{"field":"x","type":"quantitative","scale":{"domain":[0,1.2],"nice":false},"axis":{"title":"FIC₅₀ MB"}},"y":{"field":"y","type":"quantitative","scale":{"domain":[0,1.25],"nice":false},"axis":{"title":"FIC₅₀ WLW"}}},"layer":[{"data":{"name":"iso"},"mark":{"type":"line","color":"#333","strokeWidth":0.8,"strokeDash":[3,2]},"encoding":{}},{"data":{"name":"pts"},"transform":[{"filter":"datum.p=='r3w'"}],"mark":{"type":"circle","size":45,"stroke":"#222","strokeWidth":0.6,"opacity":1},"encoding":{"fill":{"field":"s","type":"nominal","scale":{"domain":["bd","bm","bl","bn","rd","rm","rl"],"range":["#1d4b77","#3a70a8","#74a3d3","#2b2e6c","#6b1719","#a82b2b","#e2553f"]},"legend":null}}}]},
  {"width":75,"height":78,"encoding":{"x":{"field":"x","type":"quantitative","scale":{"domain":[0,1.2],"nice":false},"axis":{"title":"FIC₅₀ MB"}},"y":{"field":"y","type":"quantitative","scale":{"domain":[0,1.25],"nice":false},"axis":{"title":"FIC₅₀ WLW"}}},"layer":[{"data":{"name":"iso"},"mark":{"type":"line","color":"#333","strokeWidth":0.8,"strokeDash":[3,2]},"encoding":{}},{"data":{"name":"pts"},"transform":[{"filter":"datum.p=='r3c'"}],"mark":{"type":"circle","size":45,"stroke":"#222","strokeWidth":0.6,"opacity":1},"encoding":{"fill":{"field":"s","type":"nominal","scale":{"domain":["bd","bm","bl","bn","rd","rm","rl"],"range":["#1d4b77","#3a70a8","#74a3d3","#2b2e6c","#6b1719","#a82b2b","#e2553f"]},"legend":null}}}]},
  {"width":75,"height":78,"encoding":{"x":{"field":"x","type":"quantitative","scale":{"domain":[0,1.2],"nice":false},"axis":{"title":"FIC₅₀ b-AP15"}},"y":{"field":"y","type":"quantitative","scale":{"domain":[0,1.25],"nice":false},"axis":{"title":"FIC₅₀ WLW"}}},"layer":[{"data":{"name":"iso"},"mark":{"type":"line","color":"#333","strokeWidth":0.8,"strokeDash":[3,2]},"encoding":{}},{"data":{"name":"pts"},"transform":[{"filter":"datum.p=='r4w'"}],"mark":{"type":"circle","size":45,"stroke":"#222","strokeWidth":0.6,"opacity":1},"encoding":{"fill":{"field":"s","type":"nominal","scale":{"domain":["bd","bm","bl","bn","rd","rm","rl"],"range":["#1d4b77","#3a70a8","#74a3d3","#2b2e6c","#6b1719","#a82b2b","#e2553f"]},"legend":null}}}]},
  {"width":75,"height":78,"encoding":{"x":{"field":"x","type":"quantitative","scale":{"domain":[0,1.2],"nice":false},"axis":{"title":"FIC₅₀ b-AP15"}},"y":{"field":"y","type":"quantitative","scale":{"domain":[0,1.25],"nice":false},"axis":{"title":"FIC₅₀ WLW"}}},"layer":[{"data":{"name":"iso"},"mark":{"type":"line","color":"#333","strokeWidth":0.8,"strokeDash":[3,2]},"encoding":{}},{"data":{"name":"pts"},"transform":[{"filter":"datum.p=='r4c'"}],"mark":{"type":"circle","size":45,"stroke":"#222","strokeWidth":0.6,"opacity":1},"encoding":{"fill":{"field":"s","type":"nominal","scale":{"domain":["bd","bm","bl","bn","rd","rm","rl"],"range":["#1d4b77","#3a70a8","#74a3d3","#2b2e6c","#6b1719","#a82b2b","#e2553f"]},"legend":null}}}]},
  {"width":75,"height":78,"encoding":{"x":{"field":"x","type":"quantitative","scale":{"domain":[0,1.2],"nice":false},"axis":{"title":"FIC₅₀ ESᵢ"}},"y":{"field":"y","type":"quantitative","scale":{"domain":[0,1.25],"nice":false},"axis":{"title":"FIC₅₀ WLW"}}},"layer":[{"data":{"name":"iso"},"mark":{"type":"line","color":"#333","strokeWidth":0.8,"strokeDash":[3,2]},"encoding":{}},{"data":{"name":"pts"},"transform":[{"filter":"datum.p=='r5w'"}],"mark":{"type":"circle","size":45,"stroke":"#222","strokeWidth":0.6,"opacity":1},"encoding":{"fill":{"field":"s","type":"nominal","scale":{"domain":["bd","bm","bl","bn","rd","rm","rl"],"range":["#1d4b77","#3a70a8","#74a3d3","#2b2e6c","#6b1719","#a82b2b","#e2553f"]},"legend":null}}}]},
  {"width":75,"height":78,"encoding":{"x":{"field":"x","type":"quantitative","scale":{"domain":[0,1.2],"nice":false},"axis":{"title":"FIC₅₀ ESᵢ"}},"y":{"field":"y","type":"quantitative","scale":{"domain":[0,1.25],"nice":false},"axis":{"title":"FIC₅₀ WLW"}}},"layer":[{"data":{"name":"iso"},"mark":{"type":"line","color":"#333","strokeWidth":0.8,"strokeDash":[3,2]},"encoding":{}},{"data":{"name":"pts"},"transform":[{"filter":"datum.p=='r5c'"}],"mark":{"type":"circle","size":45,"stroke":"#222","strokeWidth":0.6,"opacity":1},"encoding":{"fill":{"field":"s","type":"nominal","scale":{"domain":["bd","bm","bl","bn","rd","rm","rl"],"range":["#1d4b77","#3a70a8","#74a3d3","#2b2e6c","#6b1719","#a82b2b","#e2553f"]},"legend":null}}}]}
 ]},
 {"data":{"values":[{}]},"width":1,"height":592,"mark":{"type":"rule","color":"#9a9a9a","strokeWidth":1,"strokeDash":[3,3]},"encoding":{"x":{"datum":0,"type":"quantitative","axis":null,"scale":{"domain":[0,1]}}}},
 {"columns":2,"bounds":"flush","spacing":{"row":47.75,"column":51.5},"concat":[
  {"width":75,"height":78,"encoding":{"x":{"field":"x","type":"quantitative","scale":{"domain":[0,1.2],"nice":false},"axis":{"title":"FIC₅₀ DHA"}},"y":{"field":"y","type":"quantitative","scale":{"domain":[0,1.25],"nice":false},"axis":{"title":"FIC₅₀ WLW"}}},"layer":[{"data":{"name":"iso"},"mark":{"type":"line","color":"#333","strokeWidth":0.8,"strokeDash":[3,2]},"encoding":{}},{"data":{"name":"pts"},"transform":[{"filter":"datum.p=='t1w'"}],"mark":{"type":"circle","size":45,"stroke":"#222","strokeWidth":0.6,"opacity":1},"encoding":{"fill":{"field":"s","type":"nominal","scale":{"domain":["bd","bm","bl","bn","rd","rm","rl"],"range":["#1d4b77","#3a70a8","#74a3d3","#2b2e6c","#6b1719","#a82b2b","#e2553f"]},"legend":null}}}]},
  {"width":75,"height":78,"encoding":{"x":{"field":"x","type":"quantitative","scale":{"domain":[0,1.2],"nice":false},"axis":{"title":"FIC₅₀ DHA"}},"y":{"field":"y","type":"quantitative","scale":{"domain":[0,1.25],"nice":false},"axis":{"title":"FIC₅₀ WLW"}}},"layer":[{"data":{"name":"iso"},"mark":{"type":"line","color":"#333","strokeWidth":0.8,"strokeDash":[3,2]},"encoding":{}},{"data":{"name":"pts"},"transform":[{"filter":"datum.p=='t1c'"}],"mark":{"type":"circle","size":45,"stroke":"#222","strokeWidth":0.6,"opacity":1},"encoding":{"fill":{"field":"s","type":"nominal","scale":{"domain":["bd","bm","bl","bn","rd","rm","rl"],"range":["#1d4b77","#3a70a8","#74a3d3","#2b2e6c","#6b1719","#a82b2b","#e2553f"]},"legend":null}}}]},
  {"width":75,"height":78,"encoding":{"x":{"field":"x","type":"quantitative","scale":{"domain":[0,1.2],"nice":false},"axis":{"title":"FIC₅₀ OZ439"}},"y":{"field":"y","type":"quantitative","scale":{"domain":[0,1.25],"nice":false},"axis":{"title":"FIC₅₀ WLW"}}},"layer":[{"data":{"name":"iso"},"mark":{"type":"line","color":"#333","strokeWidth":0.8,"strokeDash":[3,2]},"encoding":{}},{"data":{"name":"pts"},"transform":[{"filter":"datum.p=='t2w'"}],"mark":{"type":"circle","size":45,"stroke":"#222","strokeWidth":0.6,"opacity":1},"encoding":{"fill":{"field":"s","type":"nominal","scale":{"domain":["bd","bm","bl","bn","rd","rm","rl"],"range":["#1d4b77","#3a70a8","#74a3d3","#2b2e6c","#6b1719","#a82b2b","#e2553f"]},"legend":null}}}]},
  {"width":75,"height":78,"encoding":{"x":{"field":"x","type":"quantitative","scale":{"domain":[0,1.2],"nice":false},"axis":{"title":"FIC₅₀ OZ439"}},"y":{"field":"y","type":"quantitative","scale":{"domain":[0,1.25],"nice":false},"axis":{"title":"FIC₅₀ WLW"}}},"layer":[{"data":{"name":"iso"},"mark":{"type":"line","color":"#333","strokeWidth":0.8,"strokeDash":[3,2]},"encoding":{}},{"data":{"name":"pts"},"transform":[{"filter":"datum.p=='t2c'"}],"mark":{"type":"circle","size":45,"stroke":"#222","strokeWidth":0.6,"opacity":1},"encoding":{"fill":{"field":"s","type":"nominal","scale":{"domain":["bd","bm","bl","bn","rd","rm","rl"],"range":["#1d4b77","#3a70a8","#74a3d3","#2b2e6c","#6b1719","#a82b2b","#e2553f"]},"legend":null}}}]},
  {"width":75,"height":78,"encoding":{"x":{"field":"x","type":"quantitative","scale":{"domain":[0,1.2],"nice":false},"axis":{"title":"FIC₅₀ MB"}},"y":{"field":"y","type":"quantitative","scale":{"domain":[0,1.25],"nice":false},"axis":{"title":"FIC₅₀ WLW"}}},"layer":[{"data":{"name":"iso"},"mark":{"type":"line","color":"#333","strokeWidth":0.8,"strokeDash":[3,2]},"encoding":{}},{"data":{"name":"pts"},"transform":[{"filter":"datum.p=='t3w'"}],"mark":{"type":"circle","size":45,"stroke":"#222","strokeWidth":0.6,"opacity":1},"encoding":{"fill":{"field":"s","type":"nominal","scale":{"domain":["bd","bm","bl","bn","rd","rm","rl"],"range":["#1d4b77","#3a70a8","#74a3d3","#2b2e6c","#6b1719","#a82b2b","#e2553f"]},"legend":null}}}]},
  {"width":75,"height":78,"encoding":{"x":{"field":"x","type":"quantitative","scale":{"domain":[0,1.2],"nice":false},"axis":{"title":"FIC₅₀ MB"}},"y":{"field":"y","type":"quantitative","scale":{"domain":[0,1.25],"nice":false},"axis":{"title":"FIC₅₀ WLW"}}},"layer":[{"data":{"name":"iso"},"mark":{"type":"line","color":"#333","strokeWidth":0.8,"strokeDash":[3,2]},"encoding":{}},{"data":{"name":"pts"},"transform":[{"filter":"datum.p=='t3c'"}],"mark":{"type":"circle","size":45,"stroke":"#222","strokeWidth":0.6,"opacity":1},"encoding":{"fill":{"field":"s","type":"nominal","scale":{"domain":["bd","bm","bl","bn","rd","rm","rl"],"range":["#1d4b77","#3a70a8","#74a3d3","#2b2e6c","#6b1719","#a82b2b","#e2553f"]},"legend":null}}}]},
  {"width":75,"height":78,"encoding":{"x":{"field":"x","type":"quantitative","scale":{"domain":[0,1.2],"nice":false},"axis":{"title":"FIC₅₀ b-AP15"}},"y":{"field":"y","type":"quantitative","scale":{"domain":[0,1.25],"nice":false},"axis":{"title":"FIC₅₀ WLW"}}},"layer":[{"data":{"name":"iso"},"mark":{"type":"line","color":"#333","strokeWidth":0.8,"strokeDash":[3,2]},"encoding":{}},{"data":{"name":"pts"},"transform":[{"filter":"datum.p=='t4w'"}],"mark":{"type":"circle","size":45,"stroke":"#222","strokeWidth":0.6,"opacity":1},"encoding":{"fill":{"field":"s","type":"nominal","scale":{"domain":["bd","bm","bl","bn","rd","rm","rl"],"range":["#1d4b77","#3a70a8","#74a3d3","#2b2e6c","#6b1719","#a82b2b","#e2553f"]},"legend":null}}}]},
  {"width":75,"height":78,"encoding":{"x":{"field":"x","type":"quantitative","scale":{"domain":[0,1.2],"nice":false},"axis":{"title":"FIC₅₀ b-AP15"}},"y":{"field":"y","type":"quantitative","scale":{"domain":[0,1.25],"nice":false},"axis":{"title":"FIC₅₀ WLW"}}},"layer":[{"data":{"name":"iso"},"mark":{"type":"line","color":"#333","strokeWidth":0.8,"strokeDash":[3,2]},"encoding":{}},{"data":{"name":"pts"},"transform":[{"filter":"datum.p=='t4c'"}],"mark":{"type":"circle","size":45,"stroke":"#222","strokeWidth":0.6,"opacity":1},"encoding":{"fill":{"field":"s","type":"nominal","scale":{"domain":["bd","bm","bl","bn","rd","rm","rl"],"range":["#1d4b77","#3a70a8","#74a3d3","#2b2e6c","#6b1719","#a82b2b","#e2553f"]},"legend":null}}}]},
  {"width":75,"height":78,"encoding":{"x":{"field":"x","type":"quantitative","scale":{"domain":[0,1.2],"nice":false},"axis":{"title":"FIC₅₀ ESᵢ"}},"y":{"field":"y","type":"quantitative","scale":{"domain":[0,1.25],"nice":false},"axis":{"title":"FIC₅₀ WLW"}}},"layer":[{"data":{"name":"iso"},"mark":{"type":"line","color":"#333","strokeWidth":0.8,"strokeDash":[3,2]},"encoding":{}},{"data":{"name":"pts"},"transform":[{"filter":"datum.p=='t5w'"}],"mark":{"type":"circle","size":45,"stroke":"#222","strokeWidth":0.6,"opacity":1},"encoding":{"fill":{"field":"s","type":"nominal","scale":{"domain":["bd","bm","bl","bn","rd","rm","rl"],"range":["#1d4b77","#3a70a8","#74a3d3","#2b2e6c","#6b1719","#a82b2b","#e2553f"]},"legend":null}}}]},
  {"width":75,"height":78,"encoding":{"x":{"field":"x","type":"quantitative","scale":{"domain":[0,1.2],"nice":false},"axis":{"title":"FIC₅₀ ESᵢ"}},"y":{"field":"y","type":"quantitative","scale":{"domain":[0,1.25],"nice":false},"axis":{"title":"FIC₅₀ WLW"}}},"layer":[{"data":{"name":"iso"},"mark":{"type":"line","color":"#333","strokeWidth":0.8,"strokeDash":[3,2]},"encoding":{}},{"data":{"name":"pts"},"transform":[{"filter":"datum.p=='t5c'"}],"mark":{"type":"circle","size":45,"stroke":"#222","strokeWidth":0.6,"opacity":1},"encoding":{"fill":{"field":"s","type":"nominal","scale":{"domain":["bd","bm","bl","bn","rd","rm","rl"],"range":["#1d4b77","#3a70a8","#74a3d3","#2b2e6c","#6b1719","#a82b2b","#e2553f"]},"legend":null}}}]}
 ]}
]}
]
}
